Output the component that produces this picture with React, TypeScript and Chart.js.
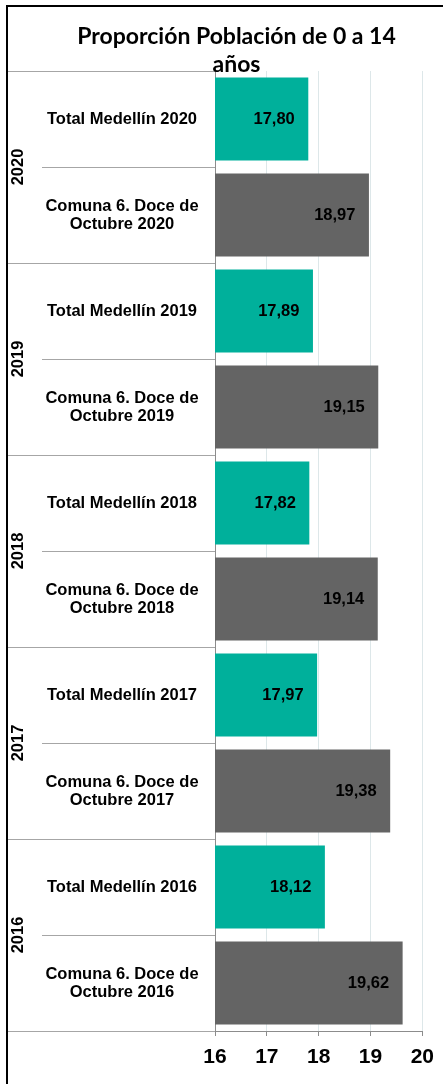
import React, { useEffect, useRef } from 'react';
import { Chart, registerables } from 'chart.js';

Chart.register(...registerables);

const titleLines = ['Proporción Población de 0 a 14', 'años'];
const years = ['2020', '2019', '2018', '2017', '2016'];
const medellinLabels = ['Total Medellín 2020', 'Total Medellín 2019', 'Total Medellín 2018', 'Total Medellín 2017', 'Total Medellín 2016'];
const comunaLabels = [
  ['Comuna 6. Doce de', 'Octubre 2020'],
  ['Comuna 6. Doce de', 'Octubre 2019'],
  ['Comuna 6. Doce de', 'Octubre 2018'],
  ['Comuna 6. Doce de', 'Octubre 2017'],
  ['Comuna 6. Doce de', 'Octubre 2016'],
];
const medellinValues = [17.8, 17.89, 17.82, 17.97, 18.12];
const comunaValues = [18.97, 19.15, 19.14, 19.38, 19.62];
const xTicks = [16, 17, 18, 19, 20];

const TEAL = '#00B09B';
const GREY = '#646464';
const SEP = '#a6a6a6';
const AXIS = '#8c8c8c';
const GRID = '#dde7e9';
const FONT = '"Liberation Sans", Arial, sans-serif';

const labels: string[][] = [];
const values: number[] = [];
const colors: string[] = [];
years.forEach((_, i) => {
  labels.push([medellinLabels[i]]);
  values.push(medellinValues[i]);
  colors.push(TEAL);
  labels.push(comunaLabels[i]);
  values.push(comunaValues[i]);
  colors.push(GREY);
});

const fmt = (v: number) => v.toFixed(2).replace('.', ',');

const overlay = {
  id: 'overlay',
  afterDraw(chart: any) {
    const ctx = chart.ctx as CanvasRenderingContext2D;
    const ys = chart.scales.y;
    const area = chart.chartArea;
    const half = (ys.getPixelForValue(1) - ys.getPixelForValue(0)) / 2;
    ctx.save();
    // outer border (clipped frame)
    ctx.fillStyle = '#000';
    ctx.fillRect(6, 5, 2, chart.height - 5);
    ctx.fillRect(6, 5, chart.width - 6, 2);

    // group separators
    ctx.strokeStyle = SEP;
    ctx.lineWidth = 1;
    for (let g = 0; g <= years.length; g++) {
      const idx = g * 2;
      const py = Math.round(ys.getPixelForValue(idx) - half) + 0.5;
      ctx.beginPath();
      ctx.moveTo(8, py);
      ctx.lineTo(area.left - 172, py);
      ctx.stroke();
    }

    // category labels
    ctx.fillStyle = '#000';
    ctx.font = `bold 16.5px ${FONT}`;
    ctx.textAlign = 'center';
    ctx.textBaseline = 'middle';
    const lh = 18;
    labels.forEach((lines, i) => {
      const cy = ys.getPixelForValue(i);
      const y0 = cy - ((lines.length - 1) * lh) / 2;
      lines.forEach((t, j) => ctx.fillText(t, 122, y0 + j * lh));
    });

    // year labels (rotated)
    years.forEach((yr, g) => {
      const cy = (ys.getPixelForValue(g * 2) + ys.getPixelForValue(g * 2 + 1)) / 2;
      ctx.save();
      ctx.translate(18.5, cy);
      ctx.rotate(-Math.PI / 2);
      ctx.fillText(yr, 0, 0);
      ctx.restore();
    });

    // data labels
    ctx.font = `bold 16.5px ${FONT}`;
    ctx.textAlign = 'right';
    const meta = chart.getDatasetMeta(0);
    meta.data.forEach((bar: any, i: number) => {
      ctx.fillText(fmt(values[i]), bar.x - 13.5, bar.y + 0.5);
    });

    // title
    ctx.font = `bold 23px Lato, "Open Sans", sans-serif`;
    ctx.textAlign = 'center';
    ctx.textBaseline = 'alphabetic';
    ctx.fillText(titleLines[0], 236.5, 43.5);
    ctx.fillText(titleLines[1], 236.5, 72);
    ctx.restore();
  },
};

export default function App() {
  const ref = useRef<HTMLCanvasElement | null>(null);
  useEffect(() => {
    if (!ref.current) return;
    const chart = new Chart(ref.current, {
      type: 'bar',
      data: {
        labels,
        datasets: [
          {
            data: values,
            backgroundColor: colors,
            borderWidth: 0,
            barPercentage: 0.865,
            categoryPercentage: 1,
          },
        ],
      },
      options: {
        indexAxis: 'y',
        animation: false,
        responsive: false,
        layout: { padding: { left: 0, right: 20, top: 71, bottom: 0 } },
        plugins: {
          legend: { display: false },
          tooltip: { enabled: false },
          title: { display: false },
        },
        scales: {
          x: {
            type: 'linear',
            min: xTicks[0],
            max: xTicks[xTicks.length - 1],
            afterFit: (s: any) => {
              s.height = 53;
            },
            afterBuildTicks: (s: any) => {
              s.ticks = xTicks.map((v) => ({ value: v }));
            },
            ticks: {
              stepSize: 1,
              color: '#000',
              padding: 9,
              font: { family: FONT, size: 21, weight: 'bold' },
            },
            grid: {
              color: (c: any) => (c.tick && c.tick.value === xTicks[0] ? AXIS : GRID),
              tickColor: AXIS,
              tickLength: 5,
              lineWidth: 1,
            },
            border: { display: true, color: AXIS, width: 1 },
          },
          y: {
            type: 'category',
            offset: true,
            afterFit: (s: any) => {
              s.width = 215;
            },
            ticks: { display: false },
            grid: {
              offset: true,
              drawOnChartArea: false,
              drawTicks: true,
              tickLength: 173,
              color: SEP,
              tickColor: SEP,
              lineWidth: 1,
            },
            border: { display: true, color: AXIS, width: 1 },
          },
        },
      },
      plugins: [overlay],
    });
    return () => chart.destroy();
  }, []);
  return (
    <div style={{ position: 'fixed', left: 0, top: 0, width: 443, height: 1084, background: '#fff' }}>
      <canvas ref={ref} width={443} height={1084} style={{ display: 'block', width: 443, height: 1084 }} />
    </div>
  );
}
